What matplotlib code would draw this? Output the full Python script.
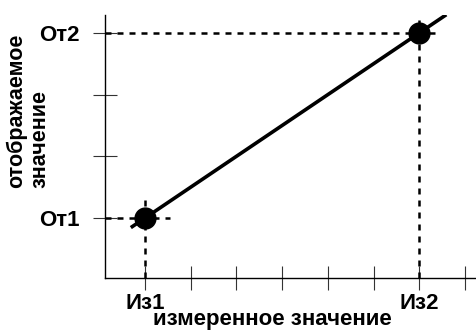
#!/usr/bin/python3
# coding: utf-8

import matplotlib
matplotlib.use("Agg")
import matplotlib.pyplot as plt

# two calibration points: measured value (x) -> displayed value (y)
meas_x = [1, 7]
disp_y = [1, 4]

# the straight line runs a little past both points
line_x = [0.69, 7.59]

x_ticks = [1, 2, 3, 4, 5, 6, 7, 8]
x_tick_labels = ["Из1", "", "", "", "", "", "Из2", ""]
y_ticks = [1, 2, 3, 4]
y_tick_labels = ["От1", "", "", "От2"]

x_label = "измеренное значение"
y_label_lines = ["отображаемое", "значение"]

plt.rcParams['font.family'] = ['Liberation Sans', 'DejaVu Sans']
plt.rcParams['font.weight'] = 'bold'

fig = plt.figure(figsize=(4.76, 3.31), dpi=100)
ax = fig.add_axes([105 / 476, 53 / 331, 371 / 476, 263 / 331])

xmin, xmax = 0.125, 8.24
ymin, ymax = 0.028, 4.29
ax.set_xlim(xmin, xmax)
ax.set_ylim(ymin, ymax)

# dashed guide lines from each point to the axes
dash = (0, (2.4, 2.4))
ax.plot([xmin, 1.55], [disp_y[0], disp_y[0]], color="black", lw=1.8, linestyle=dash)
ax.plot([meas_x[0], meas_x[0]], [ymin, 1.34], color="black", lw=1.8, linestyle=dash)
ax.plot([xmin, 7.48], [disp_y[1], disp_y[1]], color="black", lw=1.8, linestyle=dash)
ax.plot([meas_x[1], meas_x[1]], [ymin, 4.32], color="black", lw=1.8, linestyle=dash)

# characteristic line through both points
slope = (disp_y[1] - disp_y[0]) / (meas_x[1] - meas_x[0])
line_y = [disp_y[0] + slope * (v - meas_x[0]) for v in line_x]
ax.plot(line_x, line_y, color="black", lw=2.6, solid_capstyle="butt")

ax.plot(meas_x, disp_y, "o", color="black", markersize=15)

for side in ["top", "right"]:
    ax.spines[side].set_visible(False)
for side in ["left", "bottom"]:
    ax.spines[side].set_linewidth(1.0)

ax.set_xticks(x_ticks)
ax.set_xticklabels(x_tick_labels)
ax.set_yticks(y_ticks)
ax.set_yticklabels(y_tick_labels)
ax.tick_params(axis="both", direction="inout", length=17, width=0.8,
               color="#333333", labelsize=16)
ax.tick_params(axis="y", pad=10)
ax.tick_params(axis="x", pad=2)

fig.text(272 / 476, 12 / 331, x_label, ha="center", va="center",
         fontsize=16, fontweight="bold")
# rotated axis title, both lines start at the same height
for xpos, txt in zip([16, 40], y_label_lines):
    fig.text(xpos / 476, 143 / 331, txt, rotation=90, ha="center", va="bottom",
             fontsize=15.5, fontweight="bold")

plt.savefig("out.png", dpi=100)
